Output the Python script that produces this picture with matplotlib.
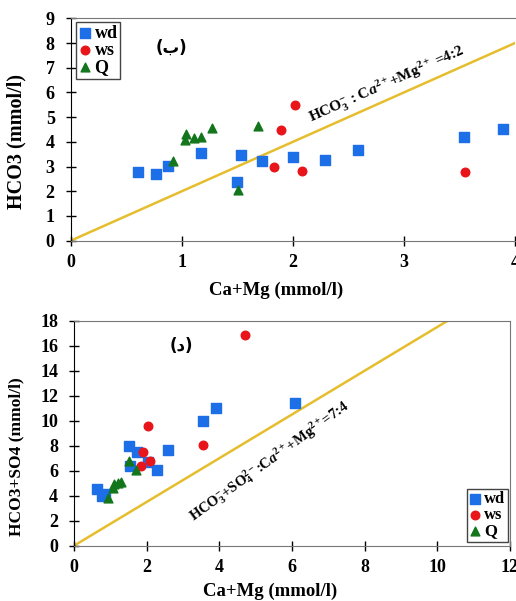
import matplotlib.pyplot as plt
import numpy as np

plt.rcParams['font.family'] = 'Liberation Serif'
plt.rcParams['font.weight'] = 'bold'
plt.rcParams['mathtext.fontset'] = 'custom'
plt.rcParams['mathtext.rm'] = 'Liberation Serif:bold'
plt.rcParams['mathtext.it'] = 'Liberation Serif:italic:bold'
plt.rcParams['mathtext.bf'] = 'Liberation Serif:bold'

# --- top panel: HCO3 vs Ca+Mg ---
top_wd_x = [0.61, 0.77, 0.88, 1.17, 1.53, 1.50, 1.72, 2.00, 2.29, 2.59, 3.54, 3.89]
top_wd_y = [2.77, 2.70, 3.04, 3.55, 3.48, 2.39, 3.23, 3.37, 3.28, 3.67, 4.20, 4.51]
top_ws_x = [2.02, 1.89, 1.83, 2.08, 3.55]
top_ws_y = [5.51, 4.48, 2.98, 2.81, 2.78]
top_q_x = [0.92, 1.03, 1.04, 1.11, 1.17, 1.27, 1.69, 1.51]
top_q_y = [3.24, 4.06, 4.30, 4.14, 4.21, 4.57, 4.64, 2.05]
top_ratio = 2.0  # 4:2

# --- bottom panel: HCO3+SO4 vs Ca+Mg ---
bot_wd_x = [0.62, 0.76, 0.85, 1.51, 1.74, 1.54, 2.05, 2.29, 2.60, 3.56, 3.91, 6.09]
bot_wd_y = [4.50, 4.00, 4.10, 7.95, 7.52, 6.40, 6.67, 6.05, 7.65, 10.0, 11.04, 11.44]
bot_ws_x = [4.72, 2.03, 1.91, 2.09, 1.84, 3.56]
bot_ws_y = [16.88, 9.60, 7.47, 6.80, 6.35, 8.03]
bot_q_x = [0.93, 1.08, 1.11, 1.22, 1.28, 1.52, 1.71]
bot_q_y = [3.79, 4.59, 4.93, 4.99, 5.12, 6.77, 6.05]
bot_ratio = 7.0 / 4.0

blue = '#1c6fe6'
red = '#e8161b'
green = '#13761c'
gold = '#e6bd2c'

fig = plt.figure(figsize=(5.16, 6.01), dpi=100)
ax1 = fig.add_axes([0.137, 0.5995, 0.861, 0.370])
ax2 = fig.add_axes([0.1434, 0.092, 0.845, 0.3744])


def style(ax):
    for s in ['top', 'right', 'bottom']:
        ax.spines[s].set_color('#777777')
    ax.spines['left'].set_color('black')
    ax.tick_params(direction='inout', length=7, width=1, labelsize=13)
    ax.tick_params(axis='y', pad=8)
    ax.tick_params(axis='x', pad=6)
    for lab in ax.get_xticklabels() + ax.get_yticklabels():
        lab.set_fontweight('bold')


# top
ax1.plot([0, 4], [0, 4 * top_ratio], color=gold, lw=1.8, zorder=1)
ax1.scatter(top_wd_x, top_wd_y, marker='s', s=45, color=blue, label='wd', zorder=3)
ax1.scatter(top_ws_x, top_ws_y, marker='o', s=38, color=red, label='ws', zorder=3)
ax1.scatter(top_q_x, top_q_y, marker='^', s=40, color=green, label='Q', zorder=3)
ax1.set_xlim(0, 4)
ax1.set_ylim(0, 9)
ax1.set_xticks(range(0, 5))
ax1.set_yticks(range(0, 10))
ax1.spines['right'].set_visible(False)
style(ax1)
ax1.set_xlabel('Ca+Mg (mmol/l)', fontsize=13.5, fontweight='bold')
ax1.set_ylabel('HCO3 (mmol/l)', fontsize=14.5, fontweight='bold')
ax1.xaxis.label.set_va('center')
ax1.yaxis.label.set_va('center')
ax1.xaxis.set_label_coords(0.463, -0.222)
ax1.yaxis.set_label_coords(-0.121, 0.444)
ax1.text(0.91, 7.8, '(ب)', fontsize=12, fontweight='bold', ha='center', va='center',
         family=['DejaVu Sans'])
ax1.text(2.17, 4.78, r'HCO$_3^{-}$ : C$\mathit{a}^{2+}$+Mg$^{2+}$ =4:2', fontsize=11,
         fontweight='bold', rotation=24, rotation_mode='anchor', ha='left', va='baseline')
ax1.legend(loc='upper left', bbox_to_anchor=(0.011, 0.983), fancybox=False,
           edgecolor='#444444', framealpha=1, handlelength=0.7, handletextpad=0.2,
           borderpad=0.15, labelspacing=0.0, borderaxespad=0,
           prop={'family': 'Liberation Serif', 'weight': 'bold', 'size': 13})

# bottom
ax2.plot([0, 18 / bot_ratio], [0, 18], color=gold, lw=1.8, zorder=1)
ax2.scatter(bot_wd_x, bot_wd_y, marker='s', s=45, color=blue, label='wd', zorder=3)
ax2.scatter(bot_ws_x, bot_ws_y, marker='o', s=38, color=red, label='ws', zorder=3)
ax2.scatter(bot_q_x, bot_q_y, marker='^', s=40, color=green, label='Q', zorder=3)
ax2.set_xlim(0, 12)
ax2.set_ylim(0, 18)
ax2.set_xticks(range(0, 13, 2))
ax2.set_yticks(range(0, 19, 2))
style(ax2)
ax2.set_xlabel('Ca+Mg (mmol/l)', fontsize=13.5, fontweight='bold')
ax2.set_ylabel('HCO3+SO4 (mmol/l)', fontsize=12.5, fontweight='bold')
ax2.xaxis.label.set_va('center')
ax2.yaxis.label.set_va('center')
ax2.xaxis.set_label_coords(0.45, -0.204)
ax2.yaxis.set_label_coords(-0.131, 0.396)
ax2.text(2.95, 16.0, '(د)', fontsize=12, fontweight='bold', ha='center', va='center',
         family=['DejaVu Sans'])
ax2.text(3.3, 1.9, r'HCO$_3^{-}$+SO$_4^{2-}$:C$\mathit{a}^{2+}$+Mg$^{2+}$=7:4', fontsize=10.5,
         fontweight='bold', rotation=36, rotation_mode='anchor', ha='left', va='baseline')
ax2.legend(loc='lower right', bbox_to_anchor=(0.995, 0.018), fancybox=False,
           edgecolor='#444444', framealpha=1, handlelength=0.7, handletextpad=0.2,
           borderpad=0.15, labelspacing=0.0, borderaxespad=0,
           prop={'family': 'Liberation Serif', 'weight': 'bold', 'size': 12})

fig.savefig('out.png', dpi=100)
